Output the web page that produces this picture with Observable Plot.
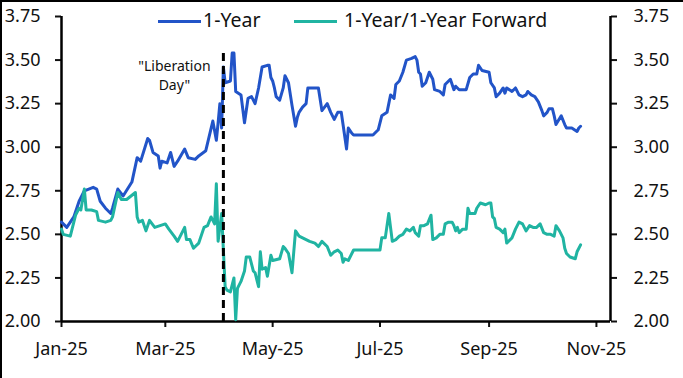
<!DOCTYPE html>
<html>
<head>
<meta charset="utf-8">
<script src="https://cdn.jsdelivr.net/npm/d3@7"></script>
<script src="https://cdn.jsdelivr.net/npm/@observablehq/plot@0.6"></script>
<style>
  body { margin: 0; background: #fff; }
  #wrap { position: relative; width: 683px; height: 378px; overflow: hidden; font-family: "Noto Sans", sans-serif; background: #fff; }
  #wrap svg { position: absolute; left: 0; top: 0; }
  .edge { position: absolute; background: #000; }
  .sw { position: absolute; height: 3px; }
  .lt { position: absolute; font-size: 19.5px; line-height: 24px; color: #111; white-space: nowrap; }
</style>
</head>
<body>
<div id="wrap"></div>
<script>
// ---- Data ----
const seriesNames = ["1-Year", "1-Year/1-Year Forward"];
const seriesColors = ["#2254c8", "#20b4a2"];

const oneYearDates = ["2025-01-01","2025-01-04","2025-01-08","2025-01-11","2025-01-14","2025-01-19","2025-01-21","2025-01-23","2025-01-26","2025-01-29","2025-01-30","2025-02-02","2025-02-05","2025-02-10","2025-02-13","2025-02-15","2025-02-19","2025-02-20","2025-02-22","2025-02-25","2025-02-26","2025-02-27","2025-03-02","2025-03-04","2025-03-06","2025-03-08","2025-03-12","2025-03-14","2025-03-18","2025-03-20","2025-03-24","2025-03-28","2025-03-30","2025-03-31","2025-04-01","2025-04-02","2025-04-03","2025-04-04","2025-04-07","2025-04-08","2025-04-09","2025-04-10","2025-04-13","2025-04-15","2025-04-17","2025-04-19","2025-04-21","2025-04-23","2025-04-25","2025-04-28","2025-04-29","2025-04-30","2025-05-01","2025-05-02","2025-05-03","2025-05-05","2025-05-07","2025-05-08","2025-05-10","2025-05-12","2025-05-14","2025-05-15","2025-05-16","2025-05-18","2025-05-20","2025-05-21","2025-05-27","2025-05-29","2025-06-01","2025-06-03","2025-06-05","2025-06-07","2025-06-09","2025-06-10","2025-06-12","2025-06-13","2025-06-15","2025-06-16","2025-06-27","2025-06-30","2025-07-02","2025-07-05","2025-07-06","2025-07-07","2025-07-09","2025-07-10","2025-07-12","2025-07-14","2025-07-16","2025-07-19","2025-07-21","2025-07-22","2025-07-23","2025-07-24","2025-07-25","2025-07-27","2025-07-29","2025-07-31","2025-08-01","2025-08-04","2025-08-06","2025-08-07","2025-08-10","2025-08-12","2025-08-13","2025-08-15","2025-08-19","2025-08-21","2025-08-23","2025-08-25","2025-08-26","2025-08-28","2025-09-01","2025-09-02","2025-09-04","2025-09-05","2025-09-07","2025-09-09","2025-09-10","2025-09-11","2025-09-14","2025-09-16","2025-09-17","2025-09-18","2025-09-20","2025-09-22","2025-09-23","2025-09-25","2025-09-27","2025-09-29","2025-10-01","2025-10-02","2025-10-04","2025-10-05","2025-10-07","2025-10-08","2025-10-09","2025-10-12","2025-10-14","2025-10-15","2025-10-18","2025-10-21","2025-10-22","2025-10-23"];
const oneYearValues = [2.57,2.54,2.60,2.69,2.75,2.77,2.76,2.69,2.65,2.62,2.65,2.76,2.72,2.80,2.94,2.92,3.05,3.04,2.97,2.95,2.88,2.92,2.91,2.97,2.89,2.92,2.99,2.94,2.93,2.95,2.98,3.15,3.04,3.14,3.25,3.11,3.46,3.37,3.38,3.54,3.54,3.32,3.30,3.14,3.28,3.29,3.25,3.34,3.46,3.47,3.47,3.40,3.38,3.34,3.29,3.27,3.34,3.41,3.37,3.24,3.12,3.17,3.20,3.23,3.25,3.34,3.34,3.21,3.25,3.20,3.16,3.20,3.20,3.13,2.99,3.11,3.08,3.07,3.07,3.10,3.18,3.20,3.25,3.30,3.28,3.36,3.38,3.43,3.50,3.51,3.52,3.50,3.43,3.42,3.35,3.37,3.43,3.39,3.33,3.32,3.30,3.36,3.39,3.33,3.35,3.33,3.33,3.40,3.42,3.42,3.47,3.44,3.43,3.37,3.34,3.29,3.31,3.34,3.31,3.34,3.32,3.34,3.32,3.30,3.29,3.30,3.32,3.30,3.29,3.26,3.21,3.18,3.20,3.22,3.22,3.18,3.13,3.18,3.13,3.11,3.11,3.09,3.11,3.12];

const forwardDates = ["2025-01-01","2025-01-02","2025-01-06","2025-01-09","2025-01-11","2025-01-12","2025-01-14","2025-01-15","2025-01-18","2025-01-21","2025-01-22","2025-01-26","2025-01-29","2025-01-30","2025-02-02","2025-02-04","2025-02-07","2025-02-12","2025-02-13","2025-02-14","2025-02-16","2025-02-18","2025-02-20","2025-02-23","2025-02-26","2025-03-01","2025-03-03","2025-03-06","2025-03-08","2025-03-12","2025-03-13","2025-03-15","2025-03-17","2025-03-20","2025-03-23","2025-03-25","2025-03-27","2025-03-29","2025-03-30","2025-03-31","2025-04-02","2025-04-04","2025-04-05","2025-04-07","2025-04-09","2025-04-10","2025-04-11","2025-04-13","2025-04-15","2025-04-16","2025-04-18","2025-04-20","2025-04-21","2025-04-23","2025-04-24","2025-04-25","2025-04-27","2025-04-28","2025-04-30","2025-05-01","2025-05-05","2025-05-07","2025-05-08","2025-05-10","2025-05-12","2025-05-14","2025-05-16","2025-05-18","2025-05-20","2025-05-22","2025-05-25","2025-05-27","2025-05-29","2025-06-01","2025-06-03","2025-06-05","2025-06-07","2025-06-09","2025-06-10","2025-06-11","2025-06-13","2025-06-16","2025-06-29","2025-07-01","2025-07-02","2025-07-04","2025-07-06","2025-07-08","2025-07-10","2025-07-12","2025-07-14","2025-07-16","2025-07-18","2025-07-20","2025-07-21","2025-07-23","2025-07-24","2025-07-26","2025-07-28","2025-07-30","2025-07-31","2025-08-02","2025-08-04","2025-08-06","2025-08-07","2025-08-09","2025-08-11","2025-08-12","2025-08-13","2025-08-14","2025-08-15","2025-08-17","2025-08-19","2025-08-20","2025-08-21","2025-08-24","2025-08-25","2025-08-27","2025-08-30","2025-09-01","2025-09-02","2025-09-03","2025-09-04","2025-09-05","2025-09-07","2025-09-09","2025-09-10","2025-09-11","2025-09-12","2025-09-14","2025-09-16","2025-09-18","2025-09-20","2025-09-22","2025-09-24","2025-09-26","2025-09-28","2025-09-30","2025-10-02","2025-10-04","2025-10-06","2025-10-08","2025-10-09","2025-10-11","2025-10-13","2025-10-14","2025-10-15","2025-10-17","2025-10-20","2025-10-21","2025-10-23"];
const forwardValues = [2.53,2.50,2.49,2.61,2.65,2.64,2.76,2.64,2.64,2.63,2.58,2.57,2.58,2.60,2.74,2.70,2.70,2.74,2.60,2.57,2.58,2.52,2.58,2.54,2.55,2.56,2.53,2.49,2.46,2.54,2.47,2.47,2.42,2.45,2.54,2.55,2.60,2.56,2.79,2.46,2.62,2.20,2.18,2.17,2.25,2.01,2.19,2.23,2.29,2.37,2.37,2.29,2.28,2.20,2.40,2.30,2.31,2.26,2.38,2.35,2.36,2.43,2.42,2.39,2.28,2.52,2.49,2.48,2.47,2.46,2.45,2.43,2.46,2.43,2.38,2.40,2.41,2.39,2.34,2.36,2.35,2.41,2.41,2.41,2.48,2.48,2.62,2.46,2.47,2.49,2.50,2.53,2.52,2.54,2.51,2.49,2.55,2.55,2.56,2.61,2.47,2.48,2.50,2.50,2.56,2.57,2.57,2.55,2.52,2.54,2.51,2.53,2.53,2.65,2.62,2.62,2.65,2.68,2.67,2.68,2.68,2.60,2.59,2.54,2.53,2.51,2.53,2.45,2.46,2.48,2.53,2.57,2.56,2.52,2.55,2.54,2.54,2.56,2.51,2.50,2.50,2.49,2.55,2.52,2.48,2.42,2.39,2.37,2.36,2.40,2.44];

const xDomainDates = ["2025-01-01", "2025-11-09"];
const xTickDates = ["2025-01-01","2025-03-01","2025-05-01","2025-07-01","2025-09-01","2025-11-01"];
const yTicks = [2.00, 2.25, 2.50, 2.75, 3.00, 3.25, 3.50, 3.75];
const yMin = 2.00, yMax = 3.75;

const libDate = "2025-04-03";
const libTop = 3.54;
const libLabel = "\"Liberation\nDay\"";
const libLabelY = 3.42;

// ---- Build ----
const parse = d3.utcParse("%Y-%m-%d");
const oneYear = oneYearDates.map((d, i) => ({date: parse(d), value: oneYearValues[i]}));
const forward = forwardDates.map((d, i) => ({date: parse(d), value: forwardValues[i]}));
const xDomain = xDomainDates.map(parse);

const chart = Plot.plot({
  width: 683,
  height: 378,
  marginTop: 16,
  marginBottom: 57,
  marginLeft: 61,
  marginRight: 73,
  style: {fontFamily: "'Noto Sans', sans-serif", fontSize: "18px", color: "#111", background: "transparent"},
  x: {type: "utc", domain: xDomain},
  y: {domain: [yMin, yMax]},
  marks: [
    Plot.axisY({anchor: "left", ticks: yTicks, tickFormat: d3.format(".2f"), tickSize: 6, tickPadding: 15, strokeWidth: 2, label: null}),
    Plot.axisY({anchor: "right", ticks: yTicks, tickFormat: d3.format(".2f"), tickSize: 6, tickPadding: 17, strokeWidth: 2, label: null}),
    Plot.axisX({ticks: xTickDates.map(parse), tickFormat: d3.utcFormat("%b-%y"), tickSize: 6, tickPadding: 15, strokeWidth: 2, label: null}),
    Plot.ruleX(xDomain, {y1: yMin, y2: yMax, stroke: "#000", strokeWidth: 2.5}),
    Plot.ruleY([yMin], {stroke: "#000", strokeWidth: 2.5}),
    Plot.line(oneYear, {x: "date", y: "value", stroke: seriesColors[0], strokeWidth: 3}),
    Plot.line(forward, {x: "date", y: "value", stroke: seriesColors[1], strokeWidth: 3}),
    Plot.ruleX([parse(libDate)], {y1: yMin, y2: libTop, stroke: "#000", strokeWidth: 3, strokeDasharray: "8,5"}),
    Plot.text([{date: parse(libDate), v: libLabelY, label: libLabel}], {x: "date", y: "v", text: "label", dx: -49, fontSize: 14, lineHeight: 1.36, fill: "#111"})
  ]
});

const wrap = document.getElementById("wrap");
wrap.appendChild(chart);

// legend (HTML overlay)
const legendPos = [{sw: 158, tx: 203}, {sw: 294, tx: 344}];
seriesNames.forEach((name, i) => {
  const sw = document.createElement("div");
  sw.className = "sw";
  sw.style.left = legendPos[i].sw + "px";
  sw.style.top = "19.5px";
  sw.style.width = "43px";
  sw.style.background = seriesColors[i];
  wrap.appendChild(sw);
  const t = document.createElement("div");
  t.className = "lt";
  t.style.left = legendPos[i].tx + "px";
  t.style.top = "7.5px";
  t.textContent = name;
  wrap.appendChild(t);
});

// outer border (left and top)
const e1 = document.createElement("div"); e1.className = "edge";
e1.style.cssText += "left:0;top:0;width:2px;height:378px;";
const e2 = document.createElement("div"); e2.className = "edge";
e2.style.cssText += "left:0;top:0;width:683px;height:2px;";
wrap.appendChild(e1); wrap.appendChild(e2);
</script>
</body>
</html>
